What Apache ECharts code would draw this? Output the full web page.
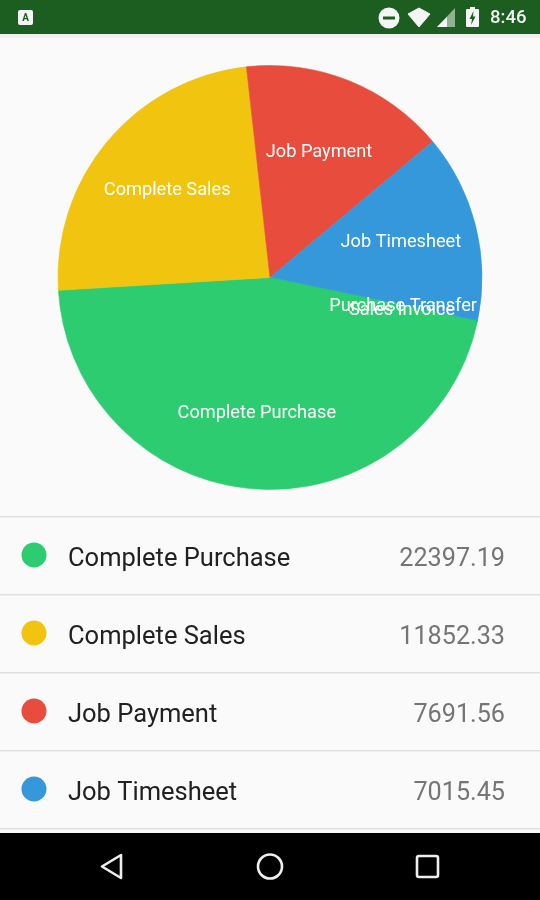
<!DOCTYPE html>
<html><head><meta charset="utf-8">
<style>html,body{margin:0;padding:0;background:#fafafa}#c{width:540px;height:900px}</style>
<script src="https://cdn.jsdelivr.net/npm/echarts@6/dist/echarts.min.js"></script>
</head><body><div id="c"></div>
<script>
const categories = ['Complete Purchase','Complete Sales','Job Payment','Job Timesheet','Purchase Transfer','Sales Invoice'];
const values = [22397.19,11852.33,7691.56,7015.45,32,14];
const valueLabels = ['22397.19','11852.33','7691.56','7015.45'];
const colors = ['#2ecc71','#f1c40f','#e74c3c','#3498db','#3498db','#2ecc71'];
const labelOffsets = [[-3,-1],[2,1],[-2,2],[-2,-2],[-1,1],[-2,5]];
const clock = '8:46';

const chart = echarts.init(document.getElementById('c'),null,{renderer:'canvas'});
const font = 'Roboto';
const rows = [];
const rowH = 78, firstRow = 517;
valueLabels.forEach((v,i)=>{
  const y = firstRow + i*rowH;
  const cy = y + 38;
  rows.push(
    {type:'rect',shape:{x:0,y:y-1,width:540,height:1.6},style:{fill:'#e0e0e0'}},
    {type:'circle',shape:{cx:34,cy:cy,r:12.5},style:{fill:colors[i]}},
    {type:'text',style:{text:categories[i],x:68,y:cy+4.5,fill:'#212121',font:'25.5px '+font,textVerticalAlign:'middle'}},
    {type:'text',style:{text:v,x:505,y:cy+4.5,fill:'#757575',font:'25.2px '+font,textAlign:'right',textVerticalAlign:'middle'}}
  );
});
const chrome = [
  {type:'rect',shape:{x:0,y:828,width:540,height:1.6},style:{fill:'#e0e0e0'}},
  {type:'rect',shape:{x:0,y:833,width:540,height:67},style:{fill:'#000'}},
  {type:'polygon',shape:{points:[[121,855],[121,878],[102,866.5]]},style:{fill:'none',stroke:'#eee',lineWidth:2.6,lineJoin:'round'}},
  {type:'circle',shape:{cx:270,cy:866.5,r:12},style:{fill:'none',stroke:'#eee',lineWidth:2.6}},
  {type:'rect',shape:{x:417,y:856,width:21,height:21,r:2},style:{fill:'none',stroke:'#eee',lineWidth:2.6}},
  {type:'rect',shape:{x:0,y:34,width:540,height:4},style:{fill:'#f0f0f0'}},
  {type:'rect',shape:{x:0,y:0,width:540,height:34},style:{fill:'#1b5e20'}},
  {type:'rect',shape:{x:18,y:10,width:15,height:15,r:2},style:{fill:'#f5f5f5'}},
  {type:'text',style:{text:'A',x:25.5,y:18,fill:'#1b5e20',font:'bold 10px '+font,textAlign:'center',textVerticalAlign:'middle'}},
  {type:'circle',shape:{cx:389,cy:18,r:10.5},style:{fill:'#f5f5f5'}},
  {type:'rect',shape:{x:383,y:16.5,width:12,height:3},style:{fill:'#1b5e20'}},
  {type:'polygon',shape:{points:[[408,14],[419,8],[430,14],[419,27]]},style:{fill:'#f5f5f5',lineJoin:'round',stroke:'#f5f5f5',lineWidth:1}},
  {type:'polygon',shape:{points:[[437,27],[455,8],[455,27]]},style:{fill:'#8fb391'}},
  {type:'polygon',shape:{points:[[437,27],[447,17],[447,27]]},style:{fill:'#f5f5f5'}},
  {type:'rect',shape:{x:466,y:9,width:13,height:18,r:1},style:{fill:'#f5f5f5'}},
  {type:'rect',shape:{x:470,y:7,width:5,height:2},style:{fill:'#f5f5f5'}},
  {type:'polygon',shape:{points:[[473.5,11],[469.5,19],[472,19],[471,25],[475.5,16.5],[473,16.5]]},style:{fill:'#1b5e20'}},
  {type:'text',style:{text:clock,x:490,y:18,fill:'#f5f5f5',font:'500 18.5px '+font,textVerticalAlign:'middle'}}
];
const pieData = categories.map((n,i)=>({name:n,value:values[i],itemStyle:{color:colors[i],borderColor:colors[i],borderWidth:0.6}}));
const labelData = categories.map((n,i)=>({name:n,value:values[i],label:{offset:labelOffsets[i]}}));
chart.setOption({
  animation:false,
  backgroundColor:'#fafafa',
  graphic:{elements:[...rows,...chrome]},
  series:[
    {type:'pie',center:[270,277.5],radius:[0,212],startAngle:-12,clockwise:true,silent:true,
     avoidLabelOverlap:false,label:{show:false},labelLine:{show:false},data:pieData},
    {type:'pie',center:[270,277.5],radius:[56,212],startAngle:-12,clockwise:true,silent:true,
     avoidLabelOverlap:false,itemStyle:{color:'rgba(0,0,0,0)'},
     label:{show:true,position:'inside',color:'#fff',fontFamily:font,fontSize:18.2,minMargin:0},
     labelLayout:{hideOverlap:false},
     labelLine:{show:false},data:labelData}
  ]
});
</script></body></html>
